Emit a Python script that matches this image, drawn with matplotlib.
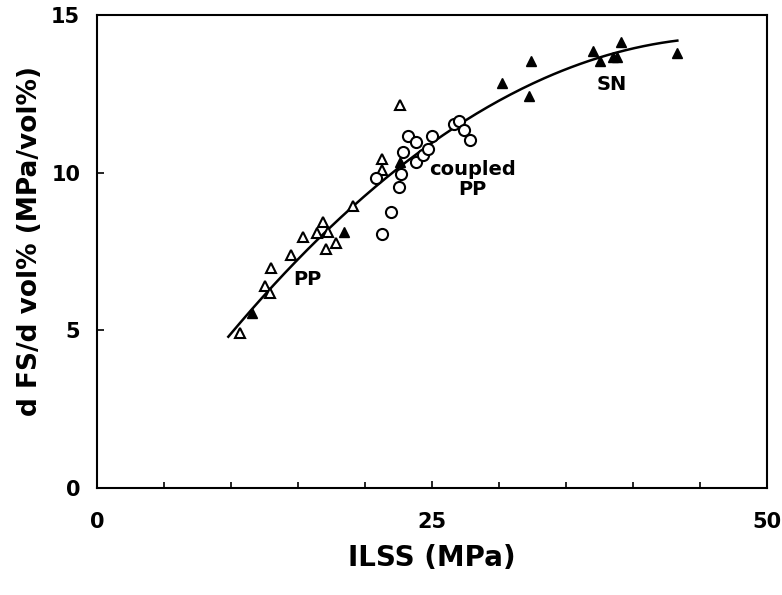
import matplotlib.pyplot as plt
import numpy as np
from matplotlib.ticker import MultipleLocator

plt.rcParams['font.family'] = ['DejaVu Sans']
plt.rcParams['font.weight'] = 'bold'

# PP (open triangles)
pp_x = [10.7, 12.5, 12.9, 13.0, 14.5, 15.4, 16.4, 16.9, 17.2, 17.1, 17.8, 19.1, 21.3, 21.3, 22.6]
pp_y = [4.92, 6.41, 6.18, 6.98, 7.39, 7.96, 8.09, 8.44, 8.12, 7.58, 7.77, 8.94, 10.09, 10.43, 12.15]

# coupled PP (open circles)
cpp_x = [20.8, 21.3, 21.9, 22.5, 22.7, 22.8, 23.2, 23.8, 23.8, 24.3, 24.7, 25.0, 26.6, 27.0, 27.4, 27.8]
cpp_y = [9.83, 8.06, 8.75, 9.55, 9.96, 10.66, 11.16, 10.97, 10.34, 10.56, 10.75, 11.16, 11.54, 11.64, 11.35, 11.04]

# SN (filled triangles)
sn_x = [11.6, 18.4, 22.6, 30.2, 32.2, 32.4, 37.0, 37.5, 38.5, 38.8, 39.1, 43.3]
sn_y = [5.55, 8.12, 10.34, 12.84, 12.43, 13.54, 13.86, 13.54, 13.67, 13.67, 14.15, 13.80]

# trend curve
fit_x = [9.8, 12.9, 16.4, 19.1, 22.6, 24.6, 27.1, 30.6, 32.2, 37.3, 43.3]
fit_y = [4.63, 6.28, 8.09, 9.01, 10.24, 10.78, 11.58, 12.31, 12.62, 13.57, 14.30]

fig = plt.figure(figsize=(7.82, 5.95), dpi=100)
ax = fig.add_axes([0.124, 0.180, 0.857, 0.795])

coef = np.polyfit(fit_x, fit_y, 2)
xs = np.linspace(fit_x[0], fit_x[-1], 200)
ax.plot(xs, np.polyval(coef, xs), color='black', lw=1.8, zorder=2)

ax.plot(pp_x, pp_y, '^', mfc='white', mec='black', mew=1.5, ms=7, ls='none', zorder=3)
ax.plot(cpp_x, cpp_y, 'o', mfc='white', mec='black', mew=1.5, ms=8, ls='none', zorder=3)
ax.plot(sn_x, sn_y, '^', mfc='black', mec='black', ms=7, ls='none', zorder=4)

ax.text(15.7, 6.6, 'PP', fontsize=14, fontweight='bold', ha='center', va='center')
ax.text(28.0, 9.77, 'coupled\nPP', fontsize=14, fontweight='bold', ha='center', va='center',
        linespacing=1.05)
ax.text(38.4, 12.8, 'SN', fontsize=14, fontweight='bold', ha='center', va='center')

ax.set_xlim(0, 50)
ax.set_ylim(0, 15)
ax.xaxis.set_major_locator(MultipleLocator(25))
ax.xaxis.set_minor_locator(MultipleLocator(5))
ax.yaxis.set_major_locator(MultipleLocator(5))
ax.tick_params(axis='both', which='both', direction='in', top=False, right=False,
               labelsize=15)
ax.tick_params(axis='both', which='major', length=5, width=1.2)
ax.tick_params(axis='both', which='minor', length=4, width=1.2)
ax.tick_params(axis='x', pad=17)
ax.tick_params(axis='y', pad=12)
for lbl in ax.get_xticklabels() + ax.get_yticklabels():
    lbl.set_fontweight('bold')
for s in ax.spines.values():
    s.set_linewidth(1.5)

ax.set_xlabel('ILSS (MPa)', fontsize=20, fontweight='bold', va='top')
ax.set_ylabel('d FS/d vol% (MPa/vol%)', fontsize=19, fontweight='bold')
ax.xaxis.set_label_coords(0.5, -0.118)
ax.yaxis.set_label_coords(-0.08, 0.522)

fig.savefig('out.png', dpi=100)
